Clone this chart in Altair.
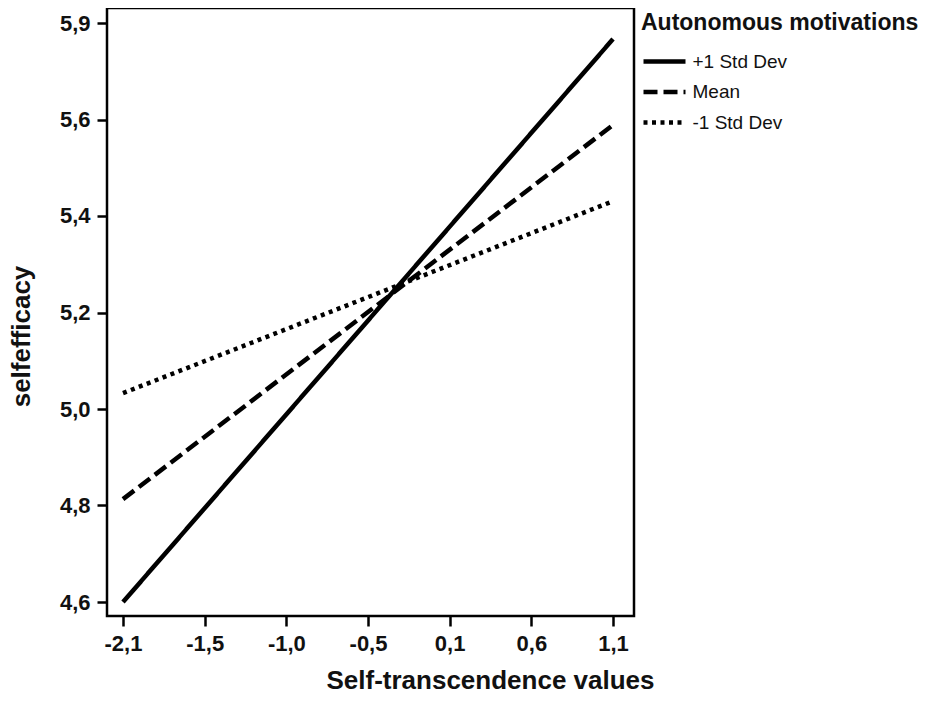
import altair as alt
import pandas as pd

# ---- data ----
series = ["+1 Std Dev", "Mean", "-1 Std Dev"]
x_points = [-2.1, 1.1]
y_start = [4.600, 4.831, 5.069]
y_end = [5.864, 5.671, 5.500]

x_ticks = [-2.1, -1.5667, -1.0333, -0.5, 0.0333, 0.5667, 1.1]
x_labels = ["-2,1", "-1,5", "-1,0", "-0,5", "0,1", "0,6", "1,1"]
y_ticks = [4.6, 4.8167, 5.0333, 5.25, 5.4667, 5.6833, 5.9]
y_labels = ["4,6", "4,8", "5,0", "5,2", "5,4", "5,6", "5,9"]

rows = []
for s, a, b in zip(series, y_start, y_end):
    rows.append({"group": s, "x": x_points[0], "y": a})
    rows.append({"group": s, "x": x_points[1], "y": b})
df = pd.DataFrame(rows)


def label_expr(ticks, labels):
    expr = "''"
    for t, l in reversed(list(zip(ticks, labels))):
        expr = f"abs(datum.value - ({t})) < 0.01 ? '{l}' : ({expr})"
    return expr


FONT = "Liberation Sans"

chart = alt.Chart(df).mark_line(strokeWidth=4.5, color="black", strokeCap="butt").encode(
    x=alt.X("x:Q",
            scale=alt.Scale(domain=[-2.2045, 1.2371], nice=False, zero=False),
            axis=alt.Axis(values=x_ticks, labelExpr=label_expr(x_ticks, x_labels),
                          title="Self-transcendence values", grid=False, domain=False,
                          tickSize=10, tickWidth=2.5, tickColor="black",
                          labelFont=FONT, labelFontSize=22, labelFontWeight="bold",
                          labelColor="#111", labelPadding=7,
                          titleFont=FONT, titleFontSize=26, titleFontWeight="bold",
                          titleColor="#111", titleX=383, titleY=72,
                          titleBaseline="alphabetic", titleAlign="center")),
    y=alt.Y("y:Q",
            scale=alt.Scale(domain=[4.5686, 5.9337], nice=False, zero=False),
            axis=alt.Axis(values=y_ticks, labelExpr=label_expr(y_ticks, y_labels),
                          title="selfefficacy", grid=False, domain=False,
                          tickSize=10, tickWidth=2.5, tickColor="black",
                          labelFont=FONT, labelFontSize=22, labelFontWeight="bold",
                          labelColor="#111", labelPadding=7,
                          titleFont=FONT, titleFontSize=26, titleFontWeight="bold",
                          titleColor="#111", titleX=-78, titleY=328,
                          titleAngle=270, titleBaseline="alphabetic", titleAlign="center")),
    strokeDash=alt.StrokeDash(
        "group:N",
        scale=alt.Scale(domain=series, range=[[1, 0], [14, 6], [4, 4.5]]),
        legend=alt.Legend(title="Autonomous motivations", orient="none",
                          legendX=534, legendY=4,
                          symbolType="M-2,0H2", symbolSize=441, symbolStrokeWidth=4.5,
                          symbolStrokeColor="black", symbolOffset=10.5,
                          titleFont=FONT, titleFontSize=23, titleFontWeight="bold",
                          titleColor="#111", titlePadding=13.5, titleLimit=400,
                          labelFont=FONT, labelFontSize=19, labelColor="#111",
                          labelOffset=15, labelLimit=300, rowPadding=7.5)),
    detail="group:N",
).properties(
    width=527,
    height=608,
    background="white",
    autosize=alt.AutoSizeParams(type="none"),
    padding={"left": 99, "top": 0, "right": 308, "bottom": 80},
).configure_view(
    stroke="black", strokeWidth=2.5
)

chart.save("out.html", embed_options={"renderer": "svg", "actions": False})
